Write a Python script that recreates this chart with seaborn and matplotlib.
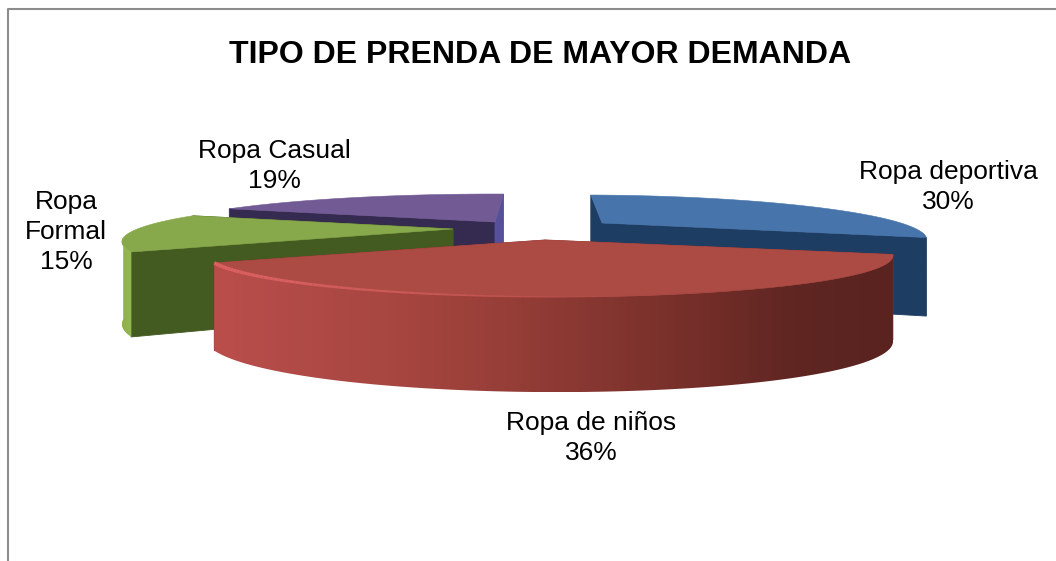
import numpy as np
import matplotlib
matplotlib.use("Agg")
import matplotlib.pyplot as plt
from matplotlib.patches import Polygon
import seaborn as sns

title = "TIPO DE PRENDA DE MAYOR DEMANDA"
categories = ["Ropa deportiva", "Ropa de niños", "Ropa\nFormal", "Ropa Casual"]
values = [30, 36, 15, 19]

top_colors = ["#4774AB", "#AC4A44", "#87A94B", "#725A94"]
start_wall_colors = ["#1E3D62", "#8A3530", "#435A20", "#352A50"]
end_wall_colors = ["#1E3D62", "#8A3530", "#435A20", "#56509A"]
rim_ramps = [["#1E3D62", "#1E3D62"],
             ["#BA4E4B", "#AF4A46", "#A6453F", "#973E38", "#853630", "#752E29", "#5F2622", "#5A231F"],
             ["#8FB04D", "#96B850"],
             ["#352A50", "#352A50"]]

sns.set_theme(style="white")
plt.rcParams["font.family"] = ["Liberation Sans", "DejaVu Sans"]

fig = plt.figure(figsize=(10.56, 5.61), dpi=100, facecolor="white")
ax = fig.add_axes([0, 0, 1, 1])
ax.axis("off")

# camera of the tilted pie
START = 88.0
K, BX, BY = 0.34, 305.0, 37.5
DEPTH, KD = 81.0, 0.15
apexes = [(602, 223), (545, 240), (453, 229), (495, 222)]
x_scale = [0.98, 1.06, 1.035, 1.08]
shear = [-19.0, -12.0, -14.0, 0.0]
depth_scale = [0.92, 1.0, 0.97, 1.0]
label_xy = [(948, 187), (591, 438), (66, 232), (274, 166)]
draw_order = [3, 0, 2, 1]


def top_point(theta, i):
    t = np.radians(theta)
    u, v = np.cos(t), np.sin(t)
    w = 1 + K * v
    return (apexes[i][0] + x_scale[i] * BX * u / w + shear[i] * v,
            apexes[i][1] - BY * v / w)


def depth_at(theta, i):
    return depth_scale[i] * DEPTH / (1 + KD * np.sin(np.radians(theta)))


counter = [0]


def z():
    counter[0] += 1
    return 2 + counter[0] * 0.001


def wall(theta, i, color):
    ax_, ay_ = apexes[i]
    x, y = top_point(theta, i)
    ax.fill([ax_, x, x, ax_], [ay_, y, y + depth_at(theta, i), ay_ + DEPTH * depth_scale[i]],
            color=color, lw=0.6, zorder=z())


edges = START - np.cumsum([0] + values) * 3.6

for i in draw_order:
    a0, a1 = edges[i], edges[i + 1]          # clockwise: a0 > a1
    wall(a0, i, start_wall_colors[i])
    wall(a1, i, end_wall_colors[i])
    th = np.linspace(a0, a1, 200)
    pts = np.array([top_point(t, i) for t in th])
    # outer rim: the part of the arc that faces the viewer, with a left-right gradient
    front = th[np.sin(np.radians(th)) < -0.22]
    if len(front) > 1:
        fr = np.array([top_point(t, i) for t in front])
        dp = np.array([depth_at(t, i) for t in front])
        poly = np.vstack([fr, (fr + np.c_[np.zeros(len(dp)), dp])[::-1]])
        ramp = np.array(sns.blend_palette(rim_ramps[i], 256))[:, :3][None, :, :]
        x0, x1 = poly[:, 0].min(), poly[:, 0].max()
        y0, y1 = poly[:, 1].min(), poly[:, 1].max()
        im = ax.imshow(ramp, extent=(x0, x1, y1, y0), aspect="auto",
                       interpolation="bilinear", zorder=z())
        im.set_clip_path(Polygon(poly, closed=True, transform=ax.transData))
    ax.fill([apexes[i][0], *pts[:, 0]], [apexes[i][1], *pts[:, 1]],
            color=top_colors[i], lw=0.4, zorder=z())

# soft highlight along the front edge of the biggest slice, thinning to nothing
big = int(np.argmax(values))
th = np.linspace(edges[big + 1], edges[big], 120)
pts = np.array([top_point(t, big) for t in th])
n_hl = 80
hl = sns.blend_palette(["#DD6262", "#D85F5F", "#C95855", "#B04C47", "#9A4540"], n_hl)
for j in range(n_hl - 1):
    ax.plot(pts[j:j + 2, 0], pts[j:j + 2, 1], color=hl[j],
            lw=2.6 * (1 - j / n_hl) + 0.1, solid_capstyle="butt", zorder=z())

for cat, val, (lx, ly) in zip(categories, values, label_xy):
    ax.text(lx, ly, f"{cat}\n{val}%", ha="center", va="center", fontsize=19,
            color="black", linespacing=1.3, zorder=5)

ax.text(540, 55, title, ha="center", va="center", fontsize=23,
        fontweight="bold", color="black", zorder=5)

# chart frame: only the top and left edges are in view
ax.plot([7.5, 7.5, 1056], [561, 9, 9], color="#8C8C8C", lw=1.5, zorder=1)

ax.set_xlim(0, 1056)
ax.set_ylim(561, 0)
fig.savefig("out.png", dpi=100, facecolor="white")
